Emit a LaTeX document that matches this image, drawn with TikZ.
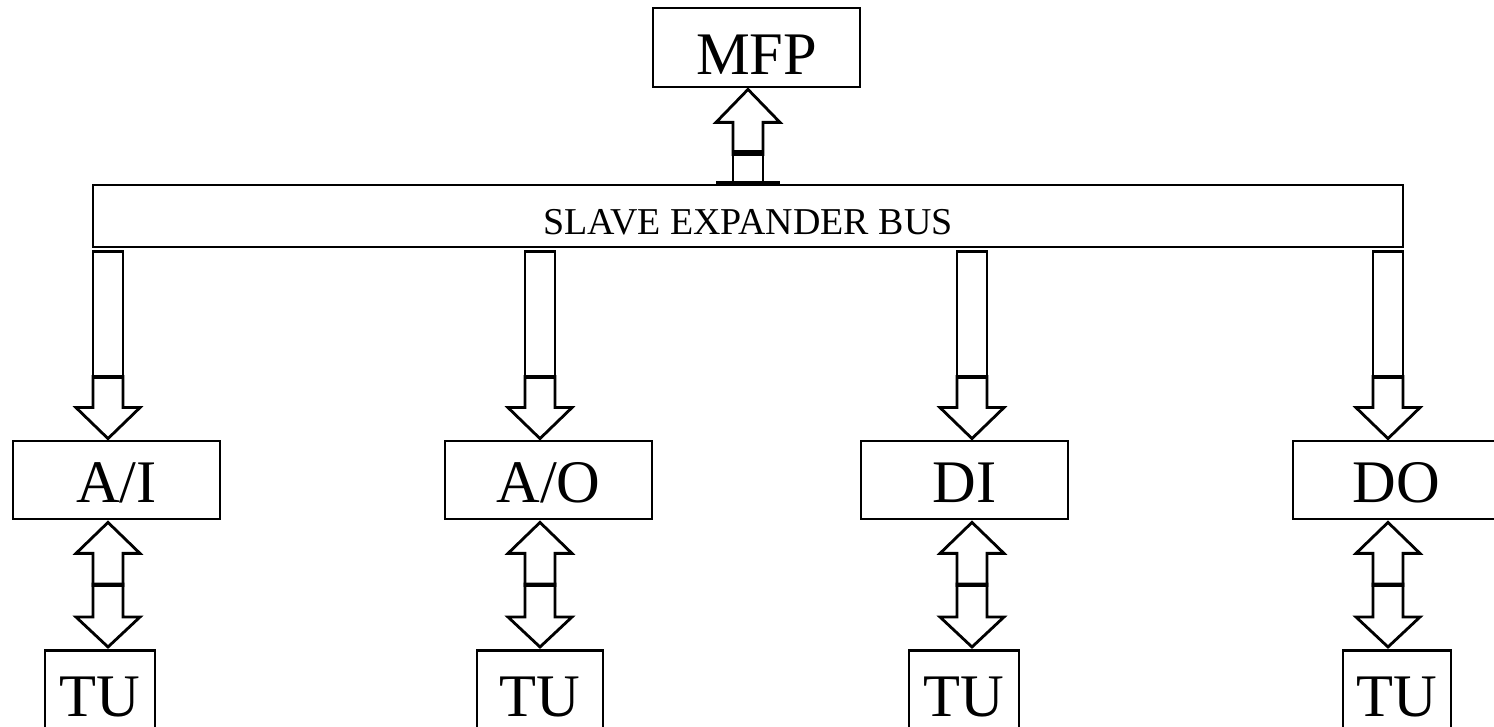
\documentclass[tikz,border=0pt]{standalone}
\usepackage{fontspec}
\setmainfont{Liberation Serif}
\usetikzlibrary{calc}

\begin{document}
\begin{tikzpicture}[line width=0.8pt,
	unit/.style = {draw, minimum width=2.07cm, minimum height=0.78cm, inner sep=0pt,
		font=\fontsize{17.2}{20}\selectfont, text depth=0pt, text height=0.46cm},
	tu/.style = {draw, anchor=north, minimum height=0.92cm, inner sep=0pt,
		font=\fontsize{17.2}{20}\selectfont, text depth=0pt, text height=0.40cm}]
	\useasboundingbox (0,0) rectangle (14.94,7.27);
	\clip (0,0) rectangle (14.94,7.27);
	\node[unit, minimum height=0.79cm, text height=0.55cm] (mfp) at (7.565,6.795) {MFP};
	\node[draw, minimum width=13.10cm, minimum height=0.62cm, inner sep=0pt,
		font=\fontsize{10.8}{13}\selectfont, text depth=0pt, text height=0.38cm] (bus) at (7.48,5.11) {SLAVE EXPANDER BUS};
	\node[unit] (ai) at (1.165,2.47) {A/I};
	\node[unit] (ao) at (5.485,2.47) {A/O};
	\node[unit] (di) at (9.645,2.47) {DI};
	\node[unit] (do) at (13.965,2.47) {DO};
	\node[tu, minimum width=1.10cm] (tuai) at (1.00,0.78) {TU};
	\node[tu, minimum width=1.26cm] (tuao) at (5.40,0.78) {TU};
	\node[tu, minimum width=1.10cm] (tudi) at (9.64,0.78) {TU};
	\node[tu, minimum width=1.08cm] (tudo) at (13.97,0.78) {TU};
	\coordinate (mcol) at (7.48,0);
	\coordinate (aicol) at (1.08,0);
	\coordinate (aocol) at (5.40,0);
	\coordinate (dicol) at (9.72,0);
	\coordinate (docol) at (13.88,0);

	\draw ($(mfp.south -| mcol)+(0,-.01)$) -- ++(-.32,-.33) -- ++(.17,0) -- ++(0,-.32)
		-- ++(.30,0) -- ++(0,.32) -- ++(.17,0) -- cycle;
	\draw ($(bus.north -| mcol)+(-.15,.01)$) -- ++(0,.31) -- ++(.30,0) -- ++(0,-.31);
	\draw ($(bus.north -| mcol)+(-.32,.01)$) -- ++(.64,0);

	\foreach \b/\t in {ai/tuai,ao/tuao,di/tudi,do/tudo} {
		\draw ($(bus.south -| \b col)+(-.15,-.03)$) rectangle ++(.30,-1.26);
		\draw ($(\b.north -| \b col)+(0,.01)$) -- ++(-.32,.31) -- ++(.17,0) -- ++(0,.31)
			-- ++(.30,0) -- ++(0,-.31) -- ++(.17,0) -- cycle;
		\draw ($(\b.south -| \b col)+(0,-.02)$) -- ++(-.32,-.31) -- ++(.17,0) -- ++(0,-.32)
			-- ++(.30,0) -- ++(0,.32) -- ++(.17,0) -- cycle;
		\draw ($(\t.north -| \b col)+(0,.02)$) -- ++(-.32,.30) -- ++(.17,0) -- ++(0,.33)
			-- ++(.30,0) -- ++(0,-.33) -- ++(.17,0) -- cycle;
	}
\end{tikzpicture}
\end{document}
